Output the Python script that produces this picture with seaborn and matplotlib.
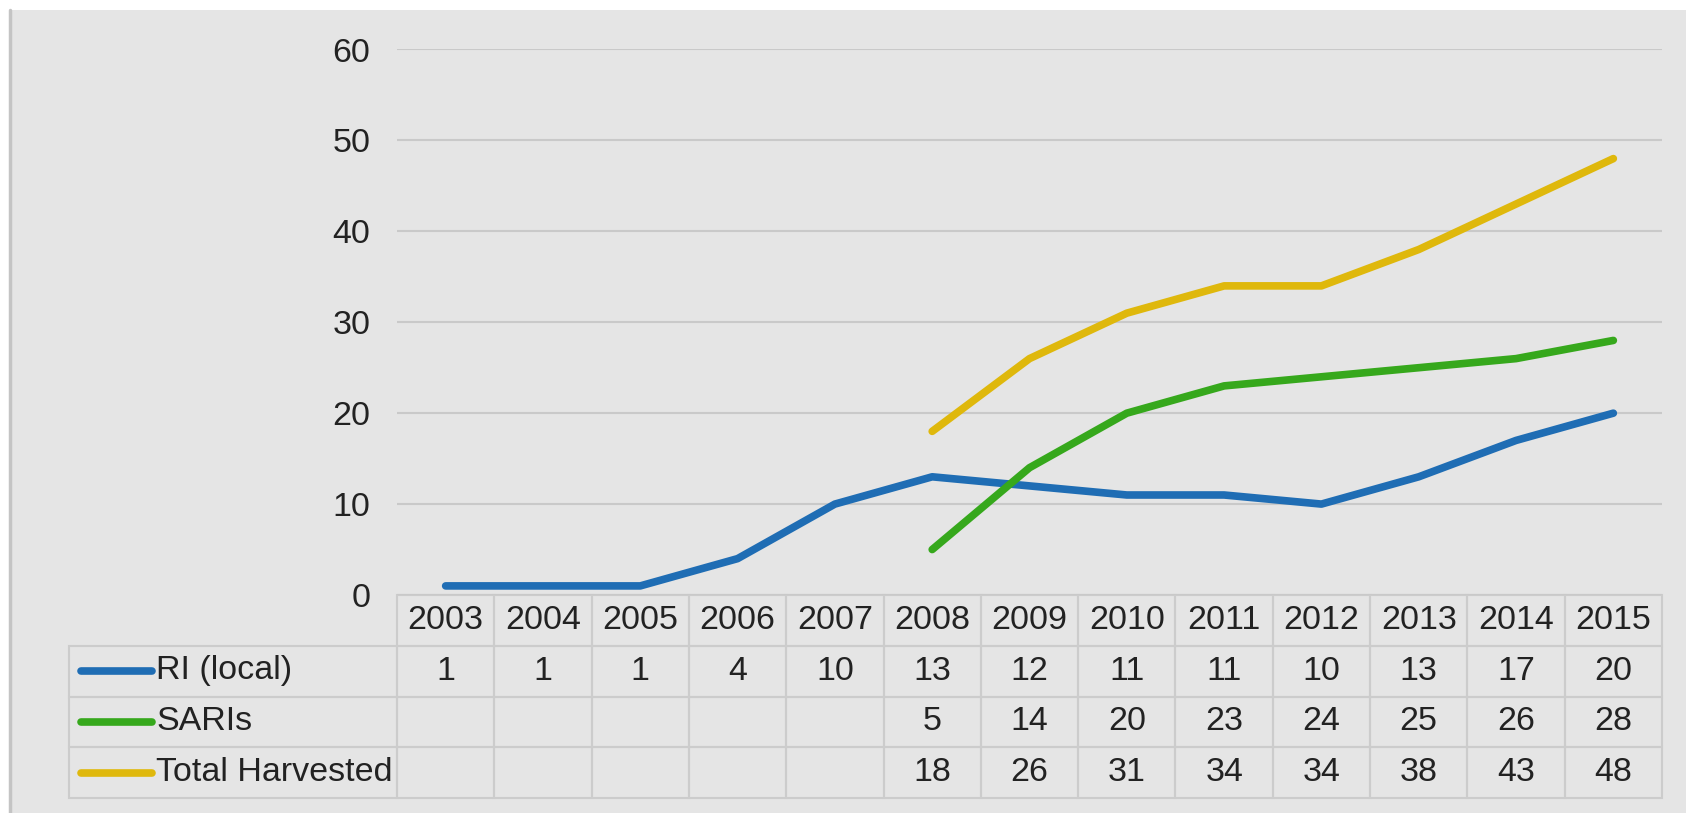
import numpy as np
import pandas as pd
import matplotlib.pyplot as plt
import seaborn as sns
from matplotlib.lines import Line2D
from matplotlib.patches import Rectangle

# data
years = [2003, 2004, 2005, 2006, 2007, 2008, 2009, 2010, 2011, 2012, 2013, 2014, 2015]
ri_local = [1, 1, 1, 4, 10, 13, 12, 11, 11, 10, 13, 17, 20]
saris = [None, None, None, None, None, 5, 14, 20, 23, 24, 25, 26, 28]
total_harvested = [None, None, None, None, None, 18, 26, 31, 34, 34, 38, 43, 48]
series_names = ['RI (local)', 'SARIs', 'Total Harvested']
colors = ['#1f6db4', '#36a81c', '#dfb80c']
y_ticks = [0, 10, 20, 30, 40, 50, 60]

sns.set_style('white')
plt.rcParams['font.family'] = ['Liberation Sans', 'DejaVu Sans']
text_color = '#222222'
bg = '#e5e5e5'
fs = 24.5

df = pd.DataFrame({'year': years, series_names[0]: ri_local,
                   series_names[1]: saris, series_names[2]: total_harvested})
long_df = df.melt(id_vars='year', var_name='series', value_name='value').dropna()

fig = plt.figure(figsize=(16.86, 8.13), dpi=100)
fig.patch.set_facecolor('white')
# grey panel with a thin left border, like the screenshot
fig.patches.append(Rectangle((11 / 1686, 0), 1, (813 - 10) / 813, transform=fig.transFigure,
                             facecolor=bg, edgecolor='none', zorder=-10))
fig.lines.append(Line2D([10 / 1686, 10 / 1686], [0, (813 - 10) / 813], transform=fig.transFigure,
                        color='#c4c4c4', lw=2.5, zorder=-9))

ax = fig.add_axes([397 / 1686, 218 / 813, 1265 / 1686, 545.5 / 813])
ax.set_facecolor('none')

sns.lineplot(data=long_df, x='year', y='value', hue='series', hue_order=series_names,
             palette=colors, linewidth=5.5, legend=False, ax=ax,
             solid_capstyle='round', zorder=3)

ax.set_xlim(years[0] - 0.5, years[-1] + 0.5)
ax.set_ylim(0, 60)
ax.set_yticks(y_ticks)
ax.set_xticks([])
ax.set_xlabel('')
ax.set_ylabel('')
ax.tick_params(axis='y', length=0, pad=19, labelsize=fs, labelcolor=text_color)
ax.grid(axis='y', color='#c9c9c9', linewidth=1.5)
ax.grid(axis='x', visible=False)
for s in ax.spines.values():
    s.set_visible(False)


def fmt(v):
    return '' if v is None else str(v)


# data table below the plot
cell_text = [[''] + [str(y) for y in years]]
cell_text.append([''] + [fmt(v) for v in ri_local])
cell_text.append([''] + [fmt(v) for v in saris])
cell_text.append([''] + [fmt(v) for v in total_harvested])

label_w = (397 - 69) / 1265
col_w = 1 / len(years)
tbl = ax.table(cellText=cell_text, colWidths=[label_w] + [col_w] * len(years),
               cellLoc='center', bbox=[-label_w, -(798 - 595) / 545.5, 1 + label_w, (798 - 595) / 545.5])
tbl.auto_set_font_size(False)
tbl.set_fontsize(fs)
for (r, c), cell in tbl.get_celld().items():
    cell.set_facecolor('none')
    cell.set_edgecolor('#cccccc')
    cell.set_linewidth(1.5)
    cell.get_text().set_color(text_color)
    if r == 0 and c == 0:
        cell.set_visible(False)

# legend keys + labels inside the first table column
row_y = [-(670.5 - 595) / 545.5, -(721.5 - 595) / 545.5, -(772.5 - 595) / 545.5]
for name, col, yy in zip(series_names, colors, row_y):
    ax.add_line(Line2D([(81 - 397) / 1265, (152 - 397) / 1265], [yy, yy], transform=ax.transAxes,
                       color=col, lw=5.5, solid_capstyle='round', clip_on=False))
    ax.text((156 - 397) / 1265, yy, name, transform=ax.transAxes, ha='left', va='center',
            fontsize=fs, color=text_color)

fig.savefig('out.png', dpi=100, facecolor=fig.get_facecolor())
